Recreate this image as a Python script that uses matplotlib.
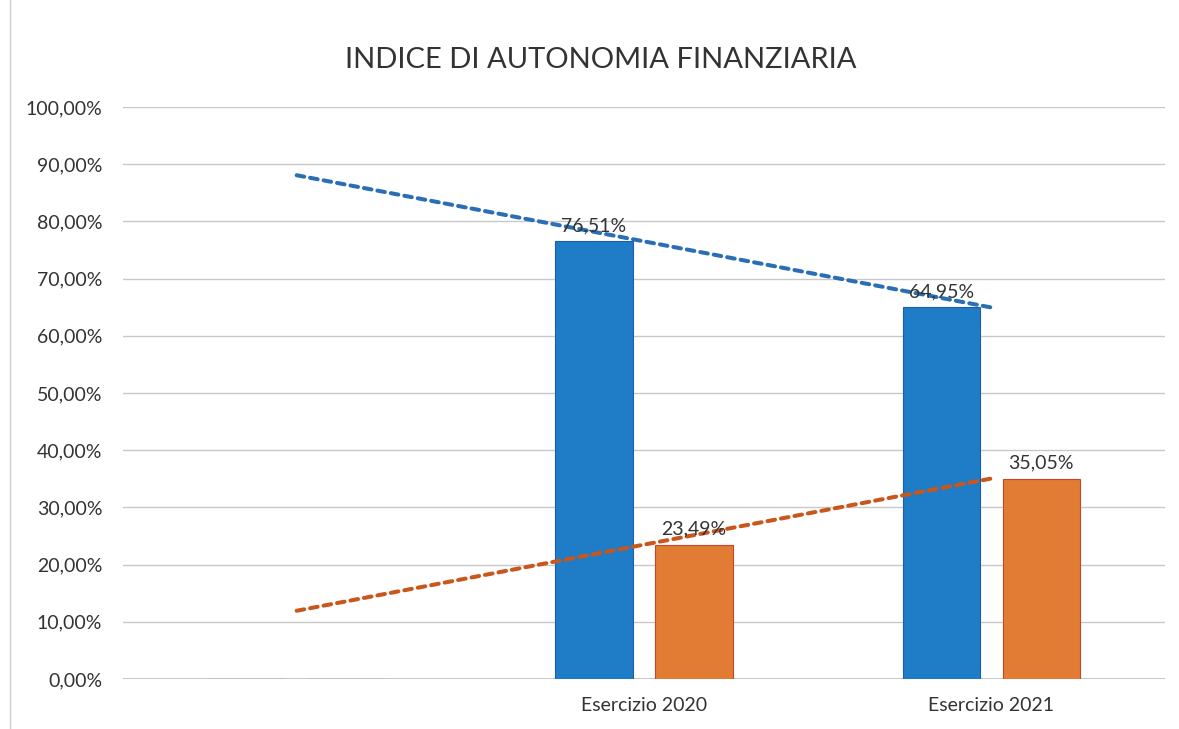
import numpy as np
import matplotlib
matplotlib.use("Agg")
import matplotlib.pyplot as plt
from matplotlib.lines import Line2D

categories = ["", "Esercizio 2020", "Esercizio 2021"]
series_a = [np.nan, 76.51, 64.95]   # blue
series_b = [np.nan, 23.49, 35.05]   # orange
yticks = [0, 10, 20, 30, 40, 50, 60, 70, 80, 90, 100]
title = "INDICE DI AUTONOMIA FINANZIARIA"

plt.rcParams['font.family'] = ['Lato', 'DejaVu Sans']

W, H = 1179, 729
fig = plt.figure(figsize=(W / 100, H / 100), dpi=100)
ax = fig.add_axes([123 / W, 1 - 679 / H, (1165 - 123) / W, (679 - 107) / H])

x = np.arange(len(categories))
bw = 0.222
off = 0.144
blue = "#1f7cc6"
orange = "#e27b34"
a = np.array(series_a, dtype=float)
b = np.array(series_b, dtype=float)
ax.bar(x - off, np.nan_to_num(a), bw, color=blue, edgecolor="#1a5fa8", linewidth=0.8, zorder=2)
ax.bar(x + off, np.nan_to_num(b), bw, color=orange, edgecolor="#c8452a", linewidth=0.8, zorder=2)

def fmt(v):
    return f"{v:.2f}%".replace(".", ",")

for xi, v in zip(x, a):
    if not np.isnan(v):
        ax.annotate(fmt(v), (xi - off, v), xytext=(0, 5), textcoords="offset points",
                    ha="center", va="bottom", fontsize=14, color="#333333", zorder=4)
for xi, v in zip(x, b):
    if not np.isnan(v):
        ax.annotate(fmt(v), (xi + off, v), xytext=(0, 5), textcoords="offset points",
                    ha="center", va="bottom", fontsize=14, color="#333333", zorder=4)

# linear trendlines (fit on available points, backward forecast to first category)
for vals, col in ((a, "#2a6fb5"), (b, "#c9561a")):
    m = ~np.isnan(vals)
    p = np.polyfit(x[m], vals[m], 1)
    xs = np.array([x[0], x[-1]], dtype=float)
    ax.plot(xs, np.polyval(p, xs), color=col, linewidth=2.9, linestyle=(0, (1.9, 1.5)),
            dash_capstyle="round", solid_capstyle="round", zorder=3)

ax.set_xlim(-0.5, len(categories) - 0.5)
ax.set_ylim(0, 100)
ax.set_yticks(yticks)
ax.set_yticklabels([f"{t:.2f}%".replace(".", ",") for t in yticks], fontsize=14, color="#333333")
ax.set_xticks(x)
ax.set_xticklabels(categories, fontsize=14, color="#333333")
ax.tick_params(axis="both", length=0)
ax.tick_params(axis="y", pad=15)
ax.tick_params(axis="x", pad=13)
ax.grid(axis="y", color="#c8c8c8", linewidth=1.0, zorder=0)
ax.set_axisbelow(True)
for s in ax.spines.values():
    s.set_visible(False)
ax.axhline(0, color="#bfbfbf", linewidth=1.2, zorder=1)

fig.text(601 / W, 1 - 60 / H, title, ha="center", va="center", fontsize=21, color="#333333")
fig.add_artist(Line2D([10 / W, 10 / W], [0, 1], color="#c9cde0", linewidth=1.0))

fig.savefig("out.png", dpi=100)
